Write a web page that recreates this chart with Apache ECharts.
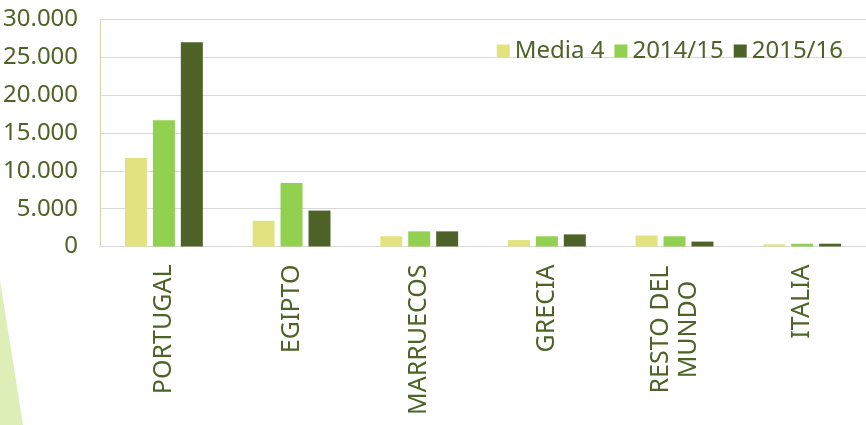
<!DOCTYPE html>
<html>
<head>
<meta charset="utf-8">
<script src="https://cdn.jsdelivr.net/npm/echarts@6/dist/echarts.min.js"></script>
<style>
  html, body { margin: 0; padding: 0; background: #fff; }
  #chart { width: 866px; height: 425px; }
</style>
</head>
<body>
<div id="chart"></div>
<script>
// data
const countries = ['PORTUGAL', 'EGIPTO', 'MARRUECOS', 'GRECIA', 'RESTO DEL\nMUNDO', 'ITALIA']
const media4 = [11700, 3400, 1350, 850, 1450, 280]
const season1415 = [16700, 8400, 2000, 1350, 1350, 370]
const season1516 = [27000, 4750, 2000, 1600, 650, 370]
const seriesNames = ['Media 4', '2014/15', '2015/16']

const textColor = '#4F6228'
const font = 'Noto Sans'

const chart = echarts.init(document.getElementById('chart'))

const fmt = (v) => String(v).replace(/\B(?=(\d{3})+(?!\d))/g, '.')

// two-line labels: both lines centred in one box
const centreLines = (v) => {
  const lines = v.split('\n')
  if (lines.length < 2) return v
  return lines.map((l) => '{c|' + l + '}').join('\n')
}

const option = {
  animation: false,
  textStyle: { fontFamily: font },
  graphic: [
    {
      type: 'polygon',
      z: -1,
      shape: { points: [[0, 280], [23, 425], [0, 425]] },
      style: { fill: '#DDEFB7' },
    },
  ],
  legend: {
    data: seriesNames,
    right: 18,
    top: 34,
    icon: 'rect',
    itemWidth: 13,
    itemHeight: 13,
    itemGap: 10,
    textStyle: { color: textColor, fontSize: 24, fontFamily: font },
  },
  grid: { left: 98, right: 0, top: 19.5, bottom: 178.5 },
  xAxis: {
    type: 'category',
    data: countries,
    axisLine: { lineStyle: { color: '#D9D9D9' } },
    axisTick: { show: false },
    axisLabel: {
      rotate: 90,
      interval: 0,
      margin: 18,
      color: textColor,
      fontSize: 25,
      lineHeight: 28,
      fontFamily: font,
      formatter: centreLines,
      rich: {
        c: { color: textColor, fontSize: 25, lineHeight: 28, fontFamily: font, width: 130, align: 'center' },
      },
    },
  },
  yAxis: {
    type: 'value',
    min: 0,
    max: 30000,
    interval: 5000,
    axisLine: { show: true, lineStyle: { color: '#D8D0AC' } },
    axisTick: { show: false },
    splitLine: { lineStyle: { color: '#D9D9D9' } },
    axisLabel: {
      margin: 22,
      color: textColor,
      fontSize: 24,
      fontFamily: font,
      formatter: fmt,
    },
  },
  series: [
    { name: seriesNames[0], type: 'bar', data: media4, color: '#E2E37E', barWidth: 22, barGap: '27%' },
    { name: seriesNames[1], type: 'bar', data: season1415, color: '#92D050', barWidth: 22, barGap: '27%' },
    { name: seriesNames[2], type: 'bar', data: season1516, color: '#4F6228', barWidth: 22, barGap: '27%' },
  ],
}

chart.setOption(option)
</script>
</body>
</html>
